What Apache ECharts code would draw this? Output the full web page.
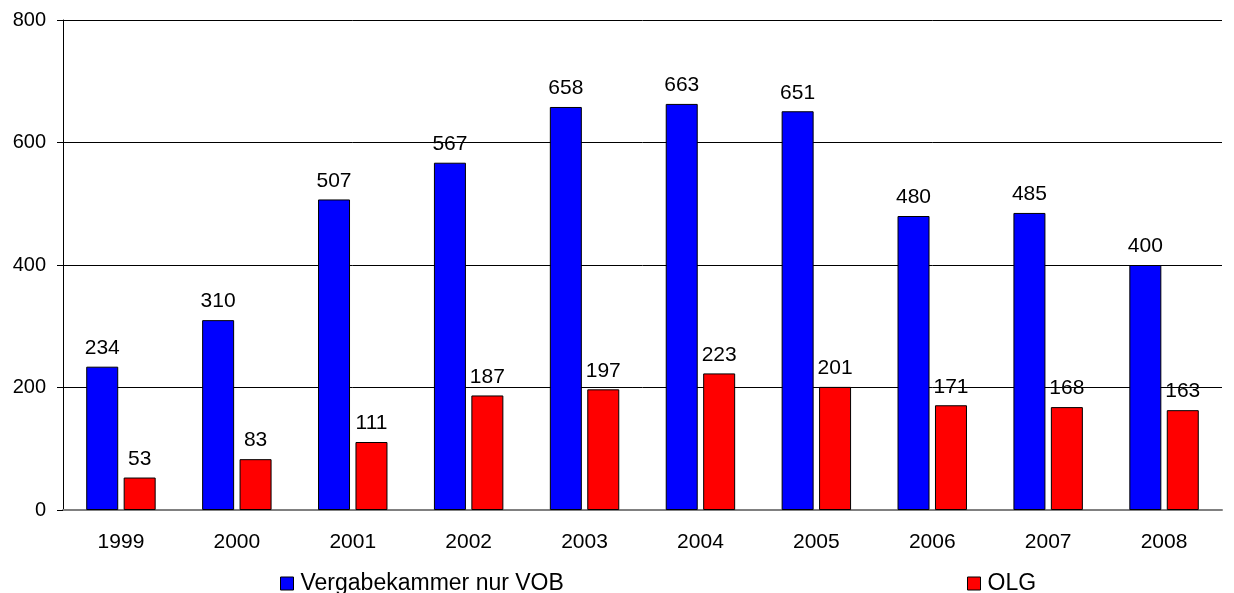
<!DOCTYPE html>
<html>
<head>
<meta charset="utf-8">
<script src="https://cdn.jsdelivr.net/npm/echarts@6/dist/echarts.min.js"></script>
<style>html,body{margin:0;padding:0;background:#fff;}#c{width:1234px;height:593px;}</style>
</head>
<body>
<div id="c"></div>
<script>
const years = ['1999','2000','2001','2002','2003','2004','2005','2006','2007','2008'];
const vergabekammer = [234,310,507,567,658,663,651,480,485,400];
const olg = [53,83,111,187,197,223,201,171,168,163];
const seriesNames = ['Vergabekammer nur VOB','OLG'];
const yTicks = {min:0, max:800, interval:200};

const FONT = 'Liberation Sans, Arial, sans-serif';
const chart = echarts.init(document.getElementById('c'));
const labelStyle = {show:true, position:'top', distance:8, color:'#000', fontSize:21, fontFamily:FONT};
chart.setOption({
  animation:false,
  backgroundColor:'#fff',
  grid:{left:63, right:12, top:20, bottom:83, containLabel:false},
  legend:[
    {data:[seriesNames[0]], left:275, top:567, padding:5, itemWidth:13, itemHeight:13, itemGap:0,
     textStyle:{fontSize:23, color:'#000', fontFamily:FONT, padding:[0,0,0,2]}, icon:'rect',
     itemStyle:{borderColor:'#000', borderWidth:1}},
    {data:[seriesNames[1]], left:962, top:567, padding:5, itemWidth:13, itemHeight:13, itemGap:0,
     textStyle:{fontSize:23, color:'#000', fontFamily:FONT, padding:[0,0,0,2]}, icon:'rect',
     itemStyle:{borderColor:'#000', borderWidth:1}}
  ],
  xAxis:{type:'category', data:years,
    axisLine:{lineStyle:{color:'#808080', width:2}},
    axisTick:{show:false},
    axisLabel:{color:'#000', fontSize:21, fontFamily:FONT, margin:22}},
  yAxis:{type:'value', min:yTicks.min, max:yTicks.max, interval:yTicks.interval,
    axisLine:{show:true, lineStyle:{color:'#000', width:1}},
    axisTick:{show:true, length:6, lineStyle:{color:'#000'}},
    splitLine:{lineStyle:{color:'#000', width:1}},
    axisLabel:{color:'#000', fontSize:20, fontFamily:FONT, margin:17}},
  series:[
    {name:seriesNames[0], type:'bar', data:vergabekammer, barWidth:32, barGap:'17%',
     itemStyle:{color:'#0000ff', borderColor:'#000', borderWidth:1}, label:labelStyle},
    {name:seriesNames[1], type:'bar', data:olg, barWidth:32,
     itemStyle:{color:'#ff0000', borderColor:'#000', borderWidth:1}, label:labelStyle}
  ]
});
</script>
</body>
</html>
